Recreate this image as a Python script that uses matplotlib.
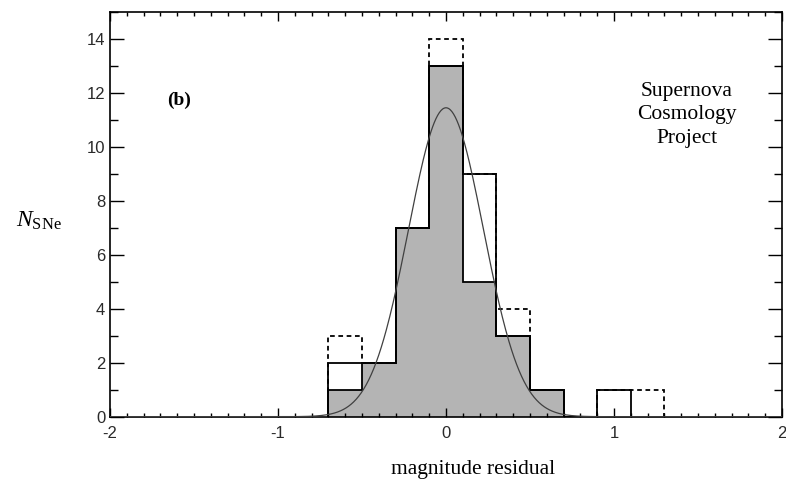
import numpy as np
import matplotlib
matplotlib.use("Agg")
import matplotlib.pyplot as plt
from matplotlib.ticker import MultipleLocator, FixedLocator

# ---- data ----
bin_edges = [-0.7, -0.5, -0.3, -0.1, 0.1, 0.3, 0.5, 0.7, 0.9, 1.1, 1.3]
counts_all = [3, 2, 7, 14, 9, 4, 1, 0, 1, 1]      # dashed outline
counts_solid = [2, 2, 7, 13, 9, 3, 1, 0, 1, 0]    # solid outline
counts_fill = [1, 2, 7, 13, 5, 3, 1, 0, 0, 0]     # gray filled
gauss_amp = 11.45
gauss_mu = 0.0
gauss_sigma = 0.223
x_ticks = [-2, -1, 0, 1, 2]
y_ticks = [0, 2, 4, 6, 8, 10, 12, 14]

plt.rcParams['axes.unicode_minus'] = False
plt.rcParams['mathtext.fontset'] = 'custom'
plt.rcParams['mathtext.rm'] = 'Liberation Serif'
plt.rcParams['mathtext.it'] = 'Liberation Serif:italic'

fig = plt.figure(figsize=(7.86, 4.83), dpi=100)
ax = fig.add_axes([110/786, 1 - 416.7/483, 672/786, 404.7/483])

ax.stairs(counts_fill, bin_edges, fill=True, color='#b4b4b4', zorder=1)
ax.stairs(counts_fill, bin_edges, color='black', lw=1.3, zorder=2)
ax.stairs(counts_all, bin_edges, color='black', lw=1.3,
          linestyle=(0, (2.6, 2.0)), zorder=3)
ax.stairs(counts_solid, bin_edges, color='black', lw=1.3, zorder=4)

xg = np.linspace(-2, 2, 801)
yg = gauss_amp * np.exp(-0.5 * ((xg - gauss_mu) / gauss_sigma) ** 2)
ax.plot(xg, yg, color='#404040', lw=0.9, zorder=5)

ax.set_xlim(-2, 2)
ax.set_ylim(0, 15)
ax.xaxis.set_major_locator(FixedLocator(x_ticks))
ax.yaxis.set_major_locator(FixedLocator(y_ticks))
ax.xaxis.set_minor_locator(MultipleLocator(0.1))
ax.yaxis.set_minor_locator(MultipleLocator(1))
ax.set_xticklabels([str(v) for v in x_ticks], fontfamily='Liberation Sans',
                   fontsize=12, color='#2a2a2a')
ax.set_yticklabels([str(v) for v in y_ticks], fontfamily='Liberation Sans',
                   fontsize=12, color='#2a2a2a')

ax.tick_params(which='both', direction='in', top=True, right=True, width=1.0)
ax.tick_params(axis='x', which='major', length=6.7, pad=6.5)
ax.tick_params(axis='x', which='minor', length=3.1)
ax.tick_params(axis='y', which='major', length=9.8, pad=3.5)
ax.tick_params(axis='y', which='minor', length=5.6)
for s in ax.spines.values():
    s.set_linewidth(1.2)

ax.set_xlabel('magnitude residual', fontfamily='Liberation Serif', fontsize=15.5)
ax.xaxis.set_label_coords(0.541, -0.108)
ax.set_ylabel(r'$N_{\mathrm{SNe}}$', fontsize=17, rotation=0,
              ha='center', va='center')
ax.yaxis.set_label_coords(-0.106, 0.486)

ax.text(-1.587, 11.71, '(b)', fontfamily='Liberation Serif', fontweight='bold',
        fontsize=14, ha='center', va='center')
ax.text(1.434, 11.2, 'Supernova\nCosmology\nProject', fontfamily='Liberation Serif',
        fontsize=15.5, ha='center', va='center', linespacing=1.32)

fig.savefig('out.png', dpi=100)
